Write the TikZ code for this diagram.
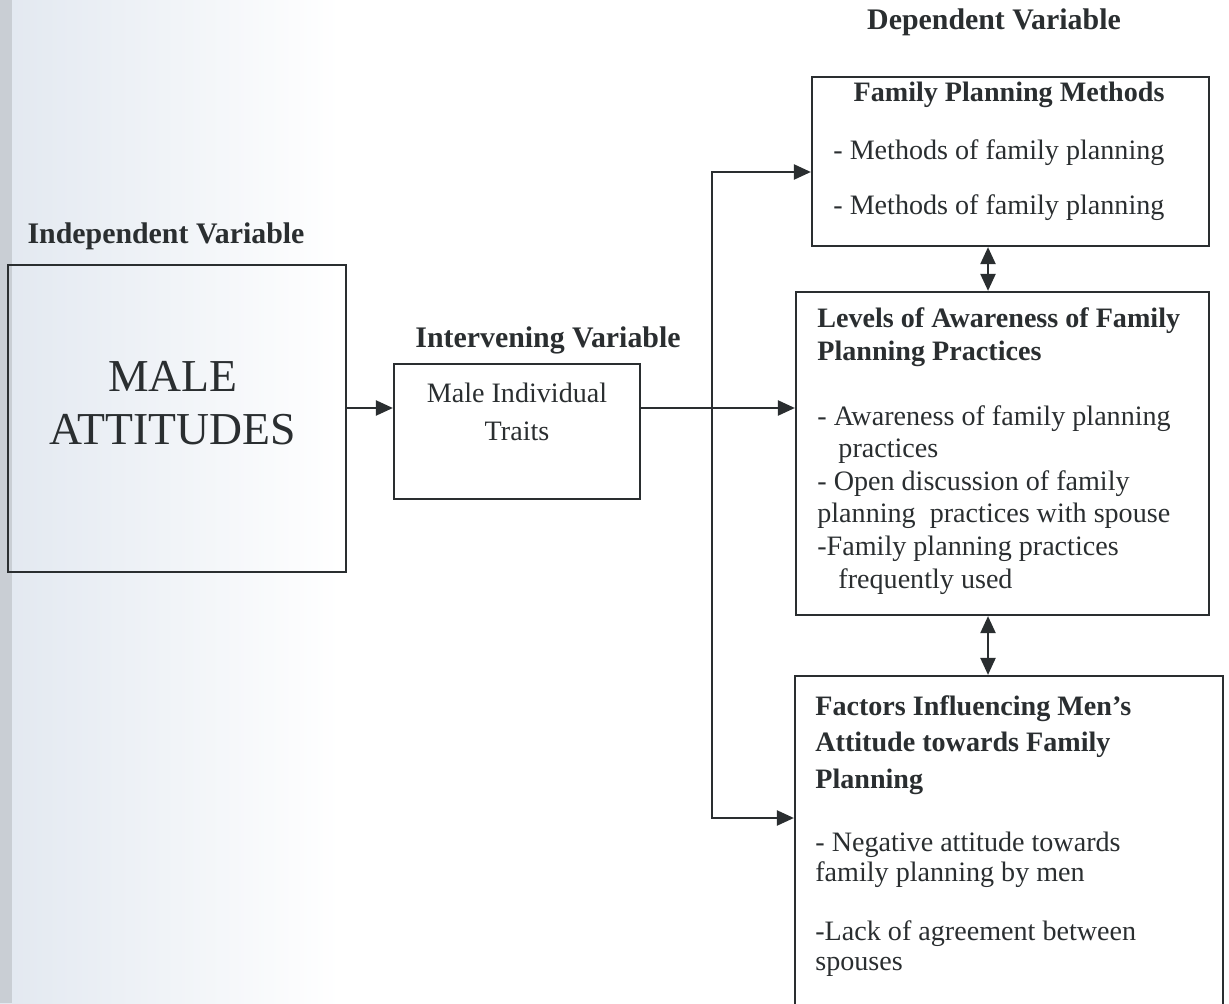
\documentclass[tikz,border=0pt]{standalone}
\usepackage{fontspec}
\setmainfont{Liberation Serif}
\usetikzlibrary{positioning,arrows.meta}
\definecolor{ink}{RGB}{42,46,48}
\definecolor{scan}{RGB}{226,232,240}
\tikzset{
  box/.style={draw=ink, rectangle, line width=1.3pt, inner sep=0mm
  },
  lbl/.style={text=ink, inner sep=0mm, font=\fontsize{17}{20}\selectfont\bfseries
  },
  txt/.style={text=ink, inner sep=0mm, align=left, font=\fontsize{16}{18.5}\selectfont
  },
  arr/.style={-{Triangle[length=3.4mm,width=3mm]}, draw=ink, line width=1.3pt
  },
  dblarr/.style={{Triangle[length=3.4mm,width=3mm]}-{Triangle[length=3.4mm,width=3mm]},
    draw=ink, line width=1.3pt
  }
}

\begin{document}
\begin{tikzpicture}[x=0.02cm, y=-0.02cm]
 \clip (0,0) rectangle (1229,1003);
 \shade[left color=scan, right color=white] (0,0) rectangle (340,1003);
 \fill[scan!75!gray] (0,0) rectangle (12,1003);

 % boxes
 \node[box, minimum width=6.76cm, minimum height=6.14cm] (male) at (177,418.5) {};
 \node[box, minimum width=4.92cm, minimum height=2.7cm] (traits) at (517,431.5) {};
 \node[box, minimum width=7.94cm, minimum height=3.38cm] (fpm) at (1010.5,161.5) {};
 \node[box, minimum width=8.26cm, minimum height=6.46cm] (aware) at (1002.5,453.5) {};
 \node[box, minimum width=8.56cm, minimum height=7.28cm] (factors) at (1009,858) {};

 % texts (anchored at the baseline of the last line)
 \node[lbl, anchor=base] (indep) at (166,244) {Independent Variable};
 \node[lbl, anchor=base] (interv) at (548,347) {Intervening Variable};
 \node[lbl, anchor=base] (dep) at (994,30) {Dependent Variable};
 \node[txt, align=center, anchor=base, font=\fontsize{26}{30}\selectfont] (maletxt) at (173,444) {MALE\\ATTITUDES};
 \node[txt, align=center, anchor=base, font=\fontsize{16}{21.5}\selectfont] (traitstxt) at (517,440) {Male Individual\\Traits};
 \node[txt, anchor=base, font=\fontsize{16}{18.5}\selectfont\bfseries] (fpmhead) at (1009,102) {Family Planning Methods};
 \node[txt, anchor=base west] (fpmtxt) at (833,215) {- Methods of family planning\\[13.25pt]- Methods of family planning};
 \node[txt, anchor=base west] (awaretxt) at (817,588) {\textbf{Levels of Awareness of Family}\\\textbf{Planning Practices}\\[18.5pt]- Awareness of family planning\\\hspace*{12pt}practices\\- Open discussion of family\\planning\ \ practices with spouse\\-Family planning practices\\\hspace*{12pt}frequently used};
 \node[txt, anchor=base west, font=\fontsize{16}{20.7}\selectfont\bfseries] (facthead) at (815,788) {Factors Influencing Men’s\\Attitude towards Family\\Planning};
 \node[txt, anchor=base west, font=\fontsize{16}{17}\selectfont] (facttxt) at (815,970) {- Negative attitude towards\\family planning by men\\[16.5pt]-Lack of agreement between\\spouses};

 % connectors
 \coordinate (fork) at (712,408);
 \coordinate (up) at (712,172);
 \coordinate (down) at (712,818);
 \coordinate (axis) at (988,260);
 \draw[arr] (male.east |- fork) -- (traits.west |- fork);
 \draw[arr] (traits.east |- fork) -- (aware.west |- fork);
 \draw[arr] (fork) -- (up) -- (fpm.west |- up);
 \draw[arr] (fork) -- (down) -- (factors.west |- down);
 \draw[dblarr] (fpm.south -| axis) -- (aware.north -| axis);
 \draw[dblarr] (aware.south -| axis) -- (factors.north -| axis);

\end{tikzpicture}
\end{document}
